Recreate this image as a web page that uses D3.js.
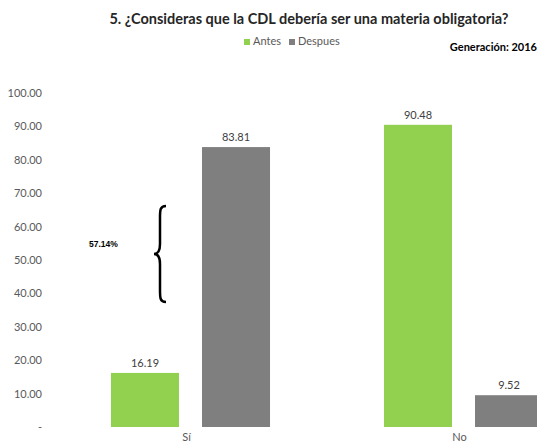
<!DOCTYPE html>
<html><head><meta charset="utf-8">
<script src="https://cdn.jsdelivr.net/npm/d3@7"></script>
<style>body{margin:0;overflow:hidden;background:#fff}svg{display:block}</style>
</head><body>
<script>
const categories = ["Sí", "No"];
const seriesNames = ["Antes", "Despues"];
const antes = [16.19, 90.48];
const despues = [83.81, 9.52];
const yTicks = [0, 10, 20, 30, 40, 50, 60, 70, 80, 90, 100];
const title = "5. ¿Consideras que la CDL debería ser una materia obligatoria?";
const note = "Generación: 2016";
const diffLabel = "57.14%";
const colors = {Antes: "#92D050", Despues: "#7F7F7F"};

const W = 537, H = 445;
const svg = d3.select("body").append("svg").attr("width", W).attr("height", H);
const font = "Lato, 'Open Sans', sans-serif";

const y = d3.scaleLinear().domain([0, 100]).range([427, 93]);
const x = d3.scaleBand().domain(categories).range([54, 600]).paddingInner(0).paddingOuter(0);
const xs = d3.scaleBand().domain(seriesNames).range([0, x.bandwidth()]).paddingInner(0.253).paddingOuter(0.626);

// y axis
const yAxis = d3.axisLeft(y).tickValues(yTicks).tickSize(0).tickPadding(0)
  .tickFormat(d => d === 0 ? "-" : d3.format(".2f")(d));
const ga = svg.append("g").attr("transform", "translate(42,0)").call(yAxis);
ga.select(".domain").remove();
ga.selectAll("text").attr("fill", "#595959").style("font-family", font).style("font-size", "11px");

// x axis labels
const xAxis = d3.axisBottom(x).tickSize(0).tickPadding(0);
const gx = svg.append("g").attr("transform", "translate(0,433)").call(xAxis);
gx.select(".domain").remove();
gx.selectAll("text").attr("fill", "#595959").style("font-family", font).style("font-size", "11px")
  .attr("dx", -4);

const data = [];
categories.forEach((c, i) => {
  data.push({cat: c, s: "Antes", v: antes[i]});
  data.push({cat: c, s: "Despues", v: despues[i]});
});

svg.append("g").selectAll("rect").data(data).join("rect")
  .attr("x", d => x(d.cat) + xs(d.s))
  .attr("width", xs.bandwidth())
  .attr("y", d => y(d.v))
  .attr("height", d => y(0) - y(d.v))
  .attr("fill", d => colors[d.s]);

svg.append("g").selectAll("text").data(data).join("text")
  .attr("x", d => x(d.cat) + xs(d.s) + xs.bandwidth() / 2)
  .attr("y", d => y(d.v) - 6)
  .attr("text-anchor", "middle")
  .attr("fill", "#404040")
  .style("font-family", font).style("font-size", "11px")
  .text(d => d3.format(".2f")(d.v));

// title
svg.append("text").attr("x", 309).attr("y", 24).attr("text-anchor", "middle")
  .style("font-family", font).style("font-size", "14.5px").style("font-weight", "bold")
  .attr("fill", "#262626").text(title);

// legend
const lg = svg.append("g").attr("transform", "translate(244,44)");
let lx = 0;
seriesNames.forEach((s, i) => {
  lg.append("rect").attr("x", lx).attr("y", -5).attr("width", 6).attr("height", 6).attr("fill", colors[s]);
  const t = lg.append("text").attr("x", lx + 9).attr("y", 1).attr("fill", "#595959")
    .style("font-family", font).style("font-size", "11px").text(s);
  lx += 9 + t.node().getComputedTextLength() + 8;
});

svg.append("text").attr("x", 537).attr("y", 51).attr("text-anchor", "end")
  .style("font-family", font).style("font-size", "11px").style("font-weight", "bold")
  .attr("fill", "#000").text(note);

// brace
const bx = 160, bTop = 206, bBot = 302, bMid = (bTop + bBot) / 2;
const bracePath = `M ${bx+6} ${bTop} C ${bx} ${bTop}, ${bx} ${bTop+4}, ${bx} ${bTop+12}
  L ${bx} ${bMid-10} C ${bx} ${bMid-3}, ${bx-2} ${bMid}, ${bx-6} ${bMid}
  C ${bx-2} ${bMid}, ${bx} ${bMid+3}, ${bx} ${bMid+10}
  L ${bx} ${bBot-12} C ${bx} ${bBot-4}, ${bx} ${bBot}, ${bx+6} ${bBot}`;
svg.append("path").attr("d", bracePath).attr("fill", "none").attr("stroke", "#000").attr("stroke-width", 2.5);

svg.append("text").attr("x", 89).attr("y", 247)
  .style("font-family", "'Liberation Sans', Arial, sans-serif").style("font-size", "8.5px").style("font-weight", "bold")
  .attr("fill", "#000").text(diffLabel);
</script>
</body></html>
